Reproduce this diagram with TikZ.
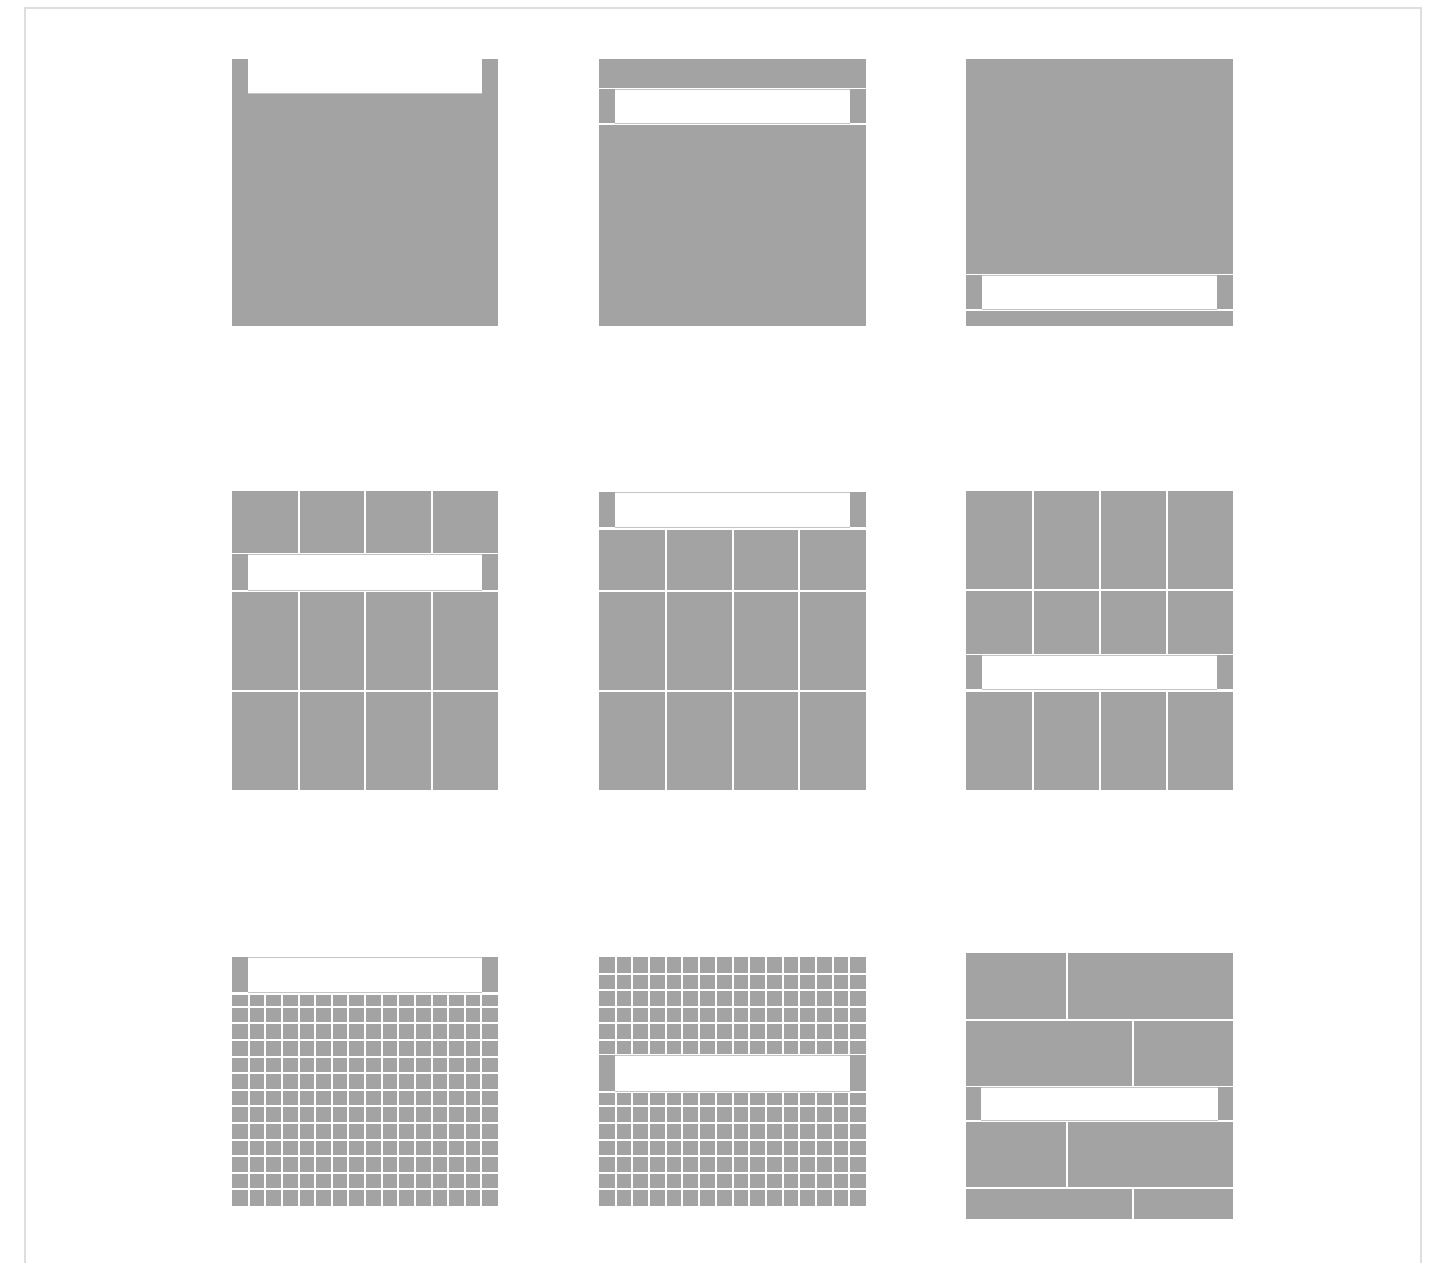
\documentclass[tikz,border=0pt]{standalone}
\usepackage{tikz}
\definecolor{pgray}{HTML}{A3A3A3}
\definecolor{bline}{HTML}{C4C4C4}
\definecolor{frameg}{HTML}{DEDEDE}
\tikzset{
  pane/.style={fill=pgray},
  gapline/.style={draw=white,line width=2pt},
  bannerfill/.style={fill=white},
  bannerrule/.style={draw=bline,line width=0.8pt},
  framerule/.style={draw=frameg,line width=2pt}
}
% band: x0, x1, y0, y1 (banner with posts of width 16)
\newcommand{\mkband}[4]{%
  \fill[white] (#1,{#3-1.5}) rectangle (#2,{#4+1.5});
  \fill[pgray] (#1,#3) rectangle ({#1+16},#4);
  \fill[pgray] ({#2-16},#3) rectangle (#2,#4);
  \draw[bannerrule] ({#1+16},#3) -- ({#2-16},#3);
  \draw[bannerrule] ({#1+16},#4) -- ({#2-16},#4);
}
\begin{document}
\begin{tikzpicture}[x=1pt,y=-1pt]
\useasboundingbox (0,0) rectangle (1435,1263);
\fill[white] (0,0) rectangle (1435,1263);
% outer frame (open at bottom)
\draw[framerule] (25,1263) -- (25,8) -- (1421,8) -- (1421,1263);

% ---------- Row 1 ----------
% Panel 1
\fill[pane] (232,59) rectangle (498,326);
\fill[white] (248,59) rectangle (482,93);
\draw[bannerrule] (248,93) -- (482,93);
% Panel 2
\fill[pane] (599,59) rectangle (866,326);
\mkband{599}{866}{89}{123}
% Panel 3
\fill[pane] (966,59) rectangle (1233,326);
\mkband{966}{1233}{275}{309}

% ---------- Row 2 ----------
% Panel 4
\fill[pane] (232,491) rectangle (498,790);
\foreach \x in {298.5,365,431.5} \draw[gapline] (\x,491) -- (\x,790);
\draw[gapline] (232,591) -- (498,591);
\draw[gapline] (232,690.5) -- (498,690.5);
\mkband{232}{498}{554}{590}
% Panel 5
\fill[pane] (599,491) rectangle (866,790);
\foreach \x in {665.5,732.5,799} \draw[gapline] (\x,491) -- (\x,790);
\draw[gapline] (599,591) -- (866,591);
\draw[gapline] (599,690.5) -- (866,690.5);
\fill[white] (599,491) rectangle (866,529.5);
\fill[pgray] (599,492) rectangle (615,527);
\fill[pgray] (850,492) rectangle (866,527);
\draw[bannerrule] (615,492) -- (850,492);
\draw[bannerrule] (615,527) -- (850,527);
% Panel 6
\fill[pane] (966,491) rectangle (1233,790);
\foreach \x in {1033,1100,1166.5} \draw[gapline] (\x,491) -- (\x,790);
\draw[gapline] (966,590) -- (1233,590);
\draw[gapline] (966,690.5) -- (1233,690.5);
\mkband{966}{1233}{655}{689}

% ---------- Row 3 ----------
% Panel 7
\fill[pane] (232,957) rectangle (498,1206);
\foreach \k in {1,...,15} \draw[gapline] ({232+\k*16.625},957) -- ({232+\k*16.625},1206);
\foreach \k in {1,...,14} \draw[gapline] (232,{957+\k*16.6}) -- (498,{957+\k*16.6});
\fill[white] (232,956) rectangle (498,994.5);
\fill[pgray] (232,957) rectangle (248,992);
\fill[pgray] (482,957) rectangle (498,992);
\draw[bannerrule] (248,957) -- (482,957);
\draw[bannerrule] (248,992) -- (482,992);
% Panel 8
\fill[pane] (599,957) rectangle (866,1206);
\foreach \k in {1,...,15} \draw[gapline] ({599+\k*16.6875},957) -- ({599+\k*16.6875},1206);
\foreach \k in {1,...,14} \draw[gapline] (599,{957+\k*16.6}) -- (866,{957+\k*16.6});
\mkband{599}{866}{1055}{1091}
% Panel 9 (brick pattern)
\fill[pane] (966,953) rectangle (1233,1219);
\draw[gapline] (966,1020) -- (1233,1020);
\draw[gapline] (966,1187.5) -- (1233,1187.5);
\draw[gapline] (1067,953) -- (1067,1020);
\draw[gapline] (1133,1020) -- (1133,1087);
\draw[gapline] (1067,1120) -- (1067,1187.5);
\draw[gapline] (1133,1187.5) -- (1133,1219);
\fill[white] (966,1085.5) rectangle (1233,1121.5);
\fill[pgray] (966,1087) rectangle (981,1120);
\fill[pgray] (1218,1087) rectangle (1233,1120);
\draw[bannerrule] (981,1087) -- (1218,1087);
\draw[bannerrule] (981,1120) -- (1218,1120);
\end{tikzpicture}
\end{document}
